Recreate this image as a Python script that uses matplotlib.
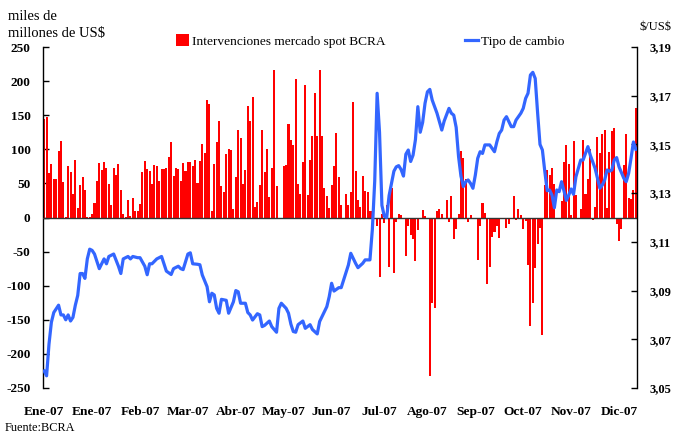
import matplotlib
matplotlib.use("Agg")
import matplotlib.pyplot as plt
import numpy as np
from matplotlib.patches import Patch
from matplotlib.lines import Line2D

# --- data -------------------------------------------------------------
interventions = [
    144, 147, 65, 78, 56, 57, 98, 112, 52, 1, 76, 66, 34, 84, 14, 48, 59, 41, 1, 1,
    5, 21, 54, 80, 69, 81, 72, 49, 18, 72, 62, 79, 40, 5, 1, 26, 2, 29, 10, 10,
    20, 66, 83, 71, 68, 49, 77, 75, 53, 71, 71, 73, 88, 111, 61, 73, 71, 53, 80, 68,
    81, 81, 75, 85, 51, 83, 108, 95, 173, 166, 9, 78, 111, 142, 46, 37, 93, 101, 99, 13,
    59, 128, 117, 49, 69, 163, 142, 176, 15, 22, 48, 129, 67, 101, 30, 72, 216, 46, 0, 0,
    75, 77, 137, 113, 106, 203, 49, 34, 82, 194, 33, 85, 120, 183, 120, 216, 119, 43, 32, 14,
    48, 76, 124, 59, 18, 0, 34, 19, 37, 170, 68, 26, 15, 61, 39, 38, 10, 10, 0, -13,
    -87, 5, -8, 18, -72, 43, -82, -7, 5, 4, 0, -57, -13, -25, -32, -64, -18, 0, 11, 2,
    0, -233, -125, -133, 9, 12, 5, 0, 25, -6, 32, -32, -17, 5, 97, 87, 57, -7, 4, -2,
    -2, -63, -13, 21, 7, -97, -73, -28, -21, -12, -30, 0, 0, -16, -9, 0, 32, -4, 12, 3,
    -17, -5, -69, -159, -125, -74, -39, -16, -173, 48, 70, 62, 73, 49, 0, 0, 24, 82, 106, 79,
    4, 112, 33, 0, 12, 113, 35, 56, 100, -3, 16, 118, 95, 122, 128, 14, 96, 127, 131, -10,
    -35, -17, 77, 123, 29, 27, 40, 160,
]

rate_day = [
    0, 1, 2, 3, 4, 6, 7, 8, 9, 10, 11, 12, 13, 14, 15, 16, 17, 18, 19, 20,
    21, 23, 24, 25, 26, 27, 28, 29, 31, 32, 33, 34, 35, 36, 37, 39, 40, 42, 43, 44,
    45, 47, 49, 50, 51, 53, 54, 56, 57, 58, 60, 61, 62, 64, 65, 66, 68, 69, 70, 71,
    72, 73, 74, 76, 77, 79, 80, 81, 82, 84, 85, 86, 87, 89, 90, 91, 92, 94, 95, 97,
    98, 99, 101, 102, 103, 104, 105, 106, 108, 109, 111, 112, 114, 115, 117, 118, 119, 120, 121, 123,
    124, 127, 128, 130, 131, 133, 134, 136, 137, 138, 139, 140, 141, 142, 143, 144, 145, 146, 147, 148,
    149, 150, 151, 152, 153, 154, 155, 156, 157, 158, 159, 160, 161, 162, 164, 166, 167, 169, 170, 171,
    172, 173, 174, 175, 176, 177, 178, 179, 180, 181, 182, 183, 184, 185, 186, 188, 189, 190, 191, 192,
    193, 195, 196, 197, 199, 200, 201, 202, 203, 204, 205, 206, 207, 208, 209, 210, 211, 212, 213, 214,
    215, 216, 217, 218, 219, 220, 221, 222, 223, 224, 225, 226, 227, 228, 230, 231, 232, 233, 234, 235,
    236, 237, 238, 239, 240, 242, 243, 244, 245, 246, 247,
]
rate = [
    3.057, 3.055, 3.068, 3.077, 3.081, 3.084, 3.080, 3.080, 3.078, 3.080, 3.0775, 3.079, 3.084, 3.088, 3.097, 3.097, 3.095, 3.103, 3.107, 3.1065,
    3.105, 3.099, 3.101, 3.103, 3.101, 3.104, 3.1045, 3.105, 3.100, 3.097, 3.103, 3.1035, 3.104, 3.103, 3.104, 3.1035, 3.1035, 3.100, 3.0965, 3.101,
    3.101, 3.103, 3.104, 3.101, 3.098, 3.0966, 3.099, 3.100, 3.099, 3.0986, 3.105, 3.1055, 3.101, 3.1008, 3.1006, 3.0964, 3.0916, 3.0854, 3.0889, 3.0882,
    3.0827, 3.0807, 3.0864, 3.086, 3.0807, 3.0854, 3.090, 3.0895, 3.0848, 3.0848, 3.081, 3.080, 3.0779, 3.0805, 3.080, 3.0752, 3.0757, 3.0775, 3.0752, 3.0729,
    3.0827, 3.0848, 3.0827, 3.0807, 3.0762, 3.0732, 3.0729, 3.076, 3.0775, 3.0745, 3.076, 3.074, 3.0722, 3.0773, 3.0813, 3.0834, 3.0875, 3.093, 3.0898, 3.0912,
    3.0912, 3.1005, 3.1053, 3.1012, 3.0994, 3.1012, 3.1026, 3.1026, 3.115, 3.135, 3.171, 3.155, 3.125, 3.1205, 3.120, 3.129, 3.134, 3.139, 3.1408, 3.1413,
    3.1397, 3.137, 3.146, 3.1477, 3.143, 3.1456, 3.152, 3.1655, 3.155, 3.159, 3.1669, 3.1716, 3.1726, 3.1682, 3.1628, 3.1559, 3.1596, 3.1648, 3.1628, 3.162,
    3.157, 3.145, 3.137, 3.1327, 3.1347, 3.1354, 3.134, 3.132, 3.1374, 3.1443, 3.147, 3.1463, 3.1498, 3.1498, 3.1498, 3.147, 3.1511, 3.1545, 3.1559, 3.160,
    3.1614, 3.1573, 3.1573, 3.160, 3.1628, 3.1648, 3.1689, 3.171, 3.1785, 3.1796, 3.1771, 3.163, 3.150, 3.1477, 3.139, 3.131, 3.1313, 3.1292, 3.124, 3.1313,
    3.1306, 3.1347, 3.131, 3.127, 3.1292, 3.1317, 3.1295, 3.1367, 3.1402, 3.1436, 3.1436, 3.1463, 3.1491, 3.1456, 3.1402, 3.1361, 3.132, 3.1333, 3.1354, 3.1395,
    3.139, 3.1395, 3.1436, 3.1446, 3.1408, 3.1361, 3.1347, 3.1381, 3.1443, 3.151, 3.148,
]

tick_days = [0, 20, 40, 60, 80, 100, 120, 140, 160, 180, 200, 220, 240]
tick_labels = ["Ene-07", "Ene-07", "Feb-07", "Mar-07", "Abr-07", "May-07", "Jun-07",
               "Jul-07", "Ago-07", "Sep-07", "Oct-07", "Nov-07", "Dic-07"]
left_ticks = [250, 200, 150, 100, 50, 0, -50, -100, -150, -200, -250]
right_ticks = [3.05, 3.07, 3.09, 3.11, 3.13, 3.15, 3.17, 3.19]

# --- figure -----------------------------------------------------------
serif = "Liberation Serif"
fig = plt.figure(figsize=(6.73, 4.34), dpi=100)
ax = fig.add_axes([43 / 673, 1 - 388 / 434, (637 - 43) / 673, (388 - 47) / 434])
ax2 = ax.twinx()

days = np.arange(len(interventions))
ax.bar(days, interventions, width=0.85, color="#FF0000", linewidth=0, zorder=2)
ax.axhline(0, color="#333333", lw=1.0, zorder=3)
ax.set_xlim(-0.5, len(interventions) - 0.5)
ax.set_ylim(-250, 250)
ax.set_yticks(left_ticks)
ax.set_yticklabels([str(v) for v in left_ticks], fontfamily=serif, fontweight="bold", fontsize=9.5)
ax.tick_params(axis="y", direction="in", length=4, width=1, pad=9)
ax.set_xticks(tick_days)
ax.set_xticklabels(tick_labels, fontfamily=serif, fontweight="bold", fontsize=9.6)
ax.tick_params(axis="x", length=0, pad=13)
for s in ["top", "bottom", "right"]:
    ax.spines[s].set_visible(False)
ax.spines["left"].set_linewidth(1)

ax2.plot(rate_day, rate, color="#3366FF", lw=2.3, zorder=4)
ax2.set_ylim(3.05, 3.19)
ax2.set_yticks(right_ticks)
ax2.set_yticklabels([f"{v:.2f}".replace(".", ",") for v in right_ticks],
                    fontfamily=serif, fontweight="bold", fontsize=9)
ax2.tick_params(axis="y", direction="in", length=4, width=1, pad=9)
for s in ["top", "bottom", "left"]:
    ax2.spines[s].set_visible(False)
ax2.spines["right"].set_linewidth(1)

# texts
fig.text(8 / 673, 1 - 16 / 434, "miles de", fontfamily=serif, fontsize=10.5, va="center", ha="left")
fig.text(8 / 673, 1 - 34 / 434, r"millones de US\$", fontfamily=serif, fontsize=10.5, va="center", ha="left")
fig.text(639 / 673, 1 - 27 / 434, r"\$/US\$", fontfamily=serif, fontsize=9, va="center", ha="left")
fig.text(5 / 673, 1 - 428 / 434, "Fuente:BCRA", fontfamily=serif, fontsize=8.8, va="center", ha="left")

# legend
handles = [Patch(facecolor="#FF0000", edgecolor="none", label="Intervenciones mercado spot BCRA"),
           Line2D([], [], color="#3366FF", lw=2.3, label="Tipo de cambio")]
fig.legend(handles=handles, loc="center", bbox_to_anchor=(370 / 673, 1 - 41 / 434), ncol=2,
           frameon=False, prop={"family": serif, "size": 9.6}, handlelength=1.0, handleheight=0.9,
           handletextpad=0.2, columnspacing=6.0)

fig.savefig("out.png", dpi=100)
